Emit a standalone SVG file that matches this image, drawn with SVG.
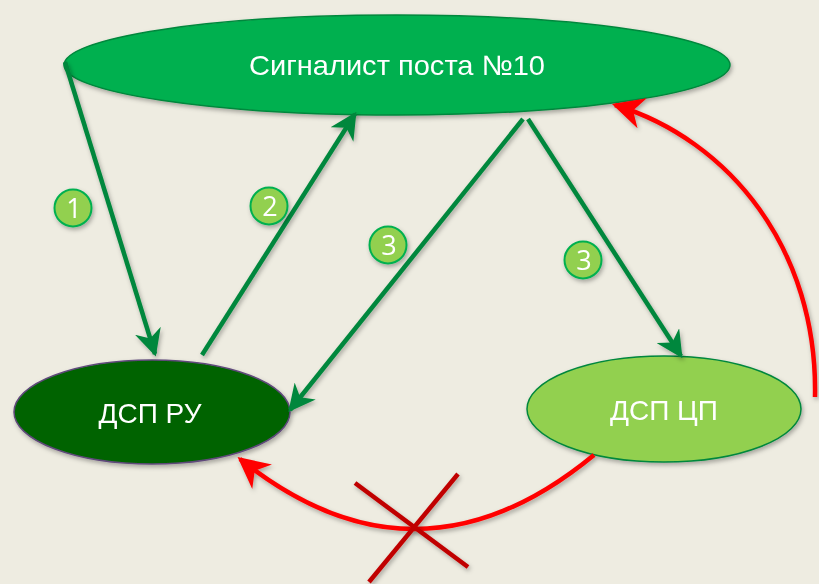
<svg xmlns="http://www.w3.org/2000/svg" width="819" height="584" viewBox="0 0 819 584">
<defs>
<filter id="sh" x="-20%" y="-20%" width="140%" height="150%">
<feDropShadow dx="1.5" dy="2.5" stdDeviation="2" flood-color="#000" flood-opacity="0.3"/>
</filter>
<marker id="ag" viewBox="0 0 10 10" refX="9" refY="5" markerWidth="6" markerHeight="6" orient="auto" markerUnits="strokeWidth">
<path d="M0,0 L10,5 L0,10 L3,5 z" fill="#00873C"/>
</marker>
<marker id="ar" viewBox="0 0 10 10" refX="9" refY="5" markerWidth="7" markerHeight="7" orient="auto" markerUnits="strokeWidth">
<path d="M0,0 L10,5 L0,10 L3,5 z" fill="#FF0000"/>
</marker>
</defs>
<style>
.lbl{font-family:"Liberation Sans",Arial,sans-serif;fill:#fff;text-anchor:middle;font-size:28px}
.num{font-family:"Open Sans","Liberation Sans",sans-serif;fill:#fff;text-anchor:middle;font-size:27px}
.g{stroke:#00873C;stroke-width:4.5;fill:none;marker-end:url(#ag)}
.r{stroke:#FF0000;stroke-width:4.5;fill:none;marker-end:url(#ar)}
.badge{fill:#92D050;stroke:#00B050;stroke-width:2}
</style>
<rect width="819" height="584" fill="#EEECE1"/>
<g id="signalist" filter="url(#sh)">
<ellipse cx="397" cy="65" rx="333" ry="50" fill="#00B050" stroke="#00873C" stroke-width="1.5"/>
<text class="lbl" x="397" y="75" textLength="296" lengthAdjust="spacingAndGlyphs">Сигналист поста №10</text>
</g>
<g id="dsp-ru" filter="url(#sh)">
<ellipse cx="152" cy="412" rx="138" ry="52" fill="#006400" stroke="#5F497A" stroke-width="1.5"/>
<text class="lbl" x="150" y="423">ДСП РУ</text>
</g>
<g id="dsp-cp" filter="url(#sh)">
<ellipse cx="664" cy="409" rx="137" ry="53" fill="#92D050" stroke="#00873C" stroke-width="1.5"/>
<text class="lbl" x="664" y="420">ДСП ЦП</text>
</g>
<g id="connectors" filter="url(#sh)">
<line class="g" x1="65" y1="62" x2="155" y2="354"/>
<line class="g" x1="202" y1="355" x2="355" y2="114"/>
<line class="g" x1="523" y1="119" x2="290" y2="410"/>
<line class="g" x1="528" y1="119" x2="681" y2="356"/>
<path class="r" d="M815,397 C818,250 730,140 615,105"/>
<path class="r" d="M594,455 Q417,601 240,459"/>
</g>
<g id="cross" filter="url(#sh)" stroke="#C00000" stroke-width="4.5">
<line x1="355" y1="483" x2="468" y2="567"/>
<line x1="458" y1="474" x2="369" y2="582"/>
</g>
<g id="badge1" filter="url(#sh)"><circle class="badge" cx="73" cy="208" r="18.5"/><text class="num" x="74" y="218">1</text></g>
<g id="badge2" filter="url(#sh)"><circle class="badge" cx="269" cy="206" r="18.5"/><text class="num" x="270" y="216">2</text></g>
<g id="badge3a" filter="url(#sh)"><circle class="badge" cx="388" cy="245" r="18.5"/><text class="num" x="389" y="255">3</text></g>
<g id="badge3b" filter="url(#sh)"><circle class="badge" cx="583" cy="260" r="18.5"/><text class="num" x="584" y="270">3</text></g>
</svg>
